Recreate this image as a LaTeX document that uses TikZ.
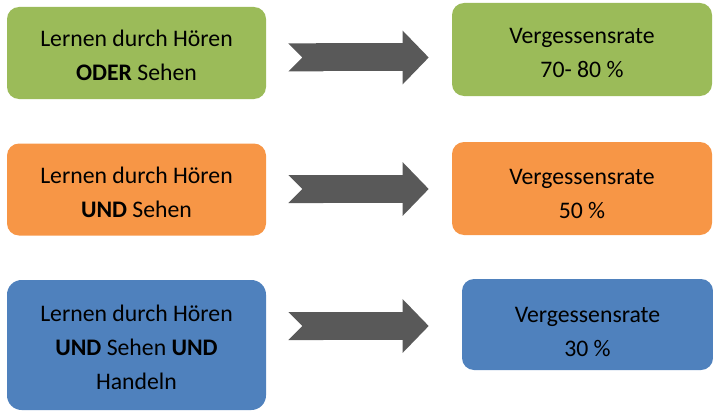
\documentclass[tikz,border=0pt]{standalone}
\usepackage{fontspec}
\setmainfont{Carlito}
\definecolor{learngreen}{HTML}{9BBB59}
\definecolor{learnorange}{HTML}{F79646}
\definecolor{learnblue}{HTML}{4F81BD}
\definecolor{arrowgray}{HTML}{595959}
\usetikzlibrary{arrows.meta, positioning, calc}
\newcommand{\topgap}[1][16.5pt]{\rule{0pt}{#1}}

\begin{document}
\begin{tikzpicture}[x=0.75pt, y=-0.75pt,
    learnbox/.style={rounded corners=9pt, inner sep=0pt, align=center,
      minimum width=194.25pt, minimum height=69pt,
      font=\fontsize{17.8}{25.5}\selectfont},
    ratebox/.style={learnbox, minimum width=195pt, minimum height=69.75pt},
    bigarrow/.style={arrowgray, line width=21pt,
      {Triangle Cap[reversed, length=10.5pt]}-{Triangle[length=19.5pt, width=39pt]}}]
  \useasboundingbox (0,0) rectangle (713,410);

  % Hoeren oder Sehen
  \node[learnbox, fill=learngreen] (l1) at (136.5, 53) {\topgap Lernen durch Hören\\\textbf{ODER} Sehen};
  \node[ratebox, fill=learngreen] (r1) at (582, 49.5) {\topgap Vergessensrate\\70- 80 \%};

  % Hoeren und Sehen
  \node[learnbox, fill=learnorange] (l2) at (136.5, 189.5) {\topgap Lernen durch Hören\\\textbf{UND} Sehen};
  \node[ratebox, fill=learnorange] (r2) at (582, 188.5) {\topgap[20pt]Vergessensrate\\50 \%};

  % Hoeren, Sehen und Handeln
  \node[learnbox, fill=learnblue, minimum height=97.5pt, rounded corners=11pt] (l3) at (136.5, 345) {\topgap Lernen durch Hören\\\textbf{UND} Sehen \textbf{UND}\\Handeln};
  \node[ratebox, fill=learnblue, minimum width=188.25pt, minimum height=68.25pt] (r3) at (587.5, 324.5) {\topgap[22pt]Vergessensrate\\30 \%};

  % Pfeile
  \draw[bigarrow] ([shift={(22,4.5)}]l1.east) -- ([shift={(-23,8)}]r1.west);
  \draw[bigarrow] ([shift={(22,-0.5)}]l2.east) -- ([shift={(-23,0.5)}]r2.west);
  \draw[bigarrow] ([shift={(22,-19)}]l3.east) -- ([shift={(-33,1.5)}]r3.west);
\end{tikzpicture}
\end{document}
